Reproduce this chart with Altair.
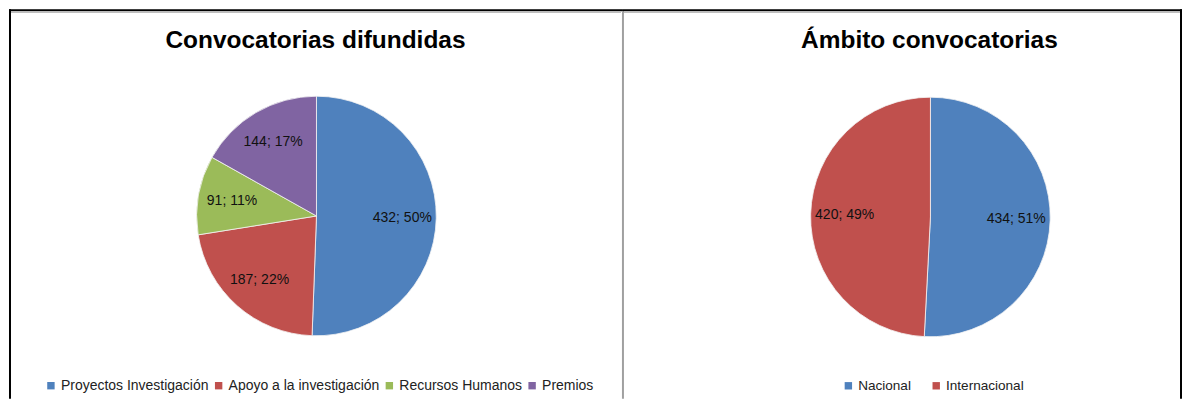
import altair as alt
import pandas as pd

# ---- data ----
cat1 = ["Proyectos Investigación", "Apoyo a la investigación", "Recursos Humanos", "Premios"]
val1 = [432, 187, 91, 144]
pct1 = [50, 22, 11, 17]
col1 = ["#4F81BD", "#C0504D", "#9BBB59", "#8064A2"]
title1 = "Convocatorias difundidas"

cat2 = ["Nacional", "Internacional"]
val2 = [434, 420]
pct2 = [51, 49]
col2 = ["#4F81BD", "#C0504D"]
title2 = "Ámbito convocatorias"

FONT = "Liberation Sans"
H = 390


def frame(df_cats, vals, pcts, colors, title, w, cx, cy, leg_x, leg_fs, col_pad, left_black, right_black):
    df = pd.DataFrame({
        "cat": df_cats,
        "value": vals,
        "idx": list(range(len(df_cats))),
        "label": [f"{v}; {p}%" for v, p in zip(vals, pcts)],
    })
    base = alt.Chart(df).encode(
        theta=alt.Theta("value:Q", stack=True),
        order=alt.Order("idx:Q"),
    )
    arcs = base.mark_arc(outerRadius=120, x=cx, y=cy, stroke="#f4f4f4", strokeWidth=0.8).encode(
        color=alt.Color(
            "cat:N",
            scale=alt.Scale(domain=df_cats, range=colors),
            sort=df_cats,
            legend=alt.Legend(
                orient="none", legendX=leg_x, legendY=370, direction="horizontal",
                title=None, symbolType="square", symbolSize=55, symbolStrokeWidth=0,
                labelFont=FONT, labelFontSize=leg_fs, labelColor="#222222",
                labelOffset=3, columnPadding=col_pad, labelLimit=300,
            ),
        )
    )
    labels = base.mark_text(radius=86, x=cx, y=cy, font=FONT, fontSize=14, color="#111111").encode(
        text="label:N"
    )
    one = alt.Data(values=[{"t": title}])
    ttl = alt.Chart(one).mark_text(
        x=cx - 1, y=32, font=FONT, fontSize=24.5, fontWeight="bold", color="#000000",
        align="center", baseline="middle",
    ).encode(text="t:N")
    layers = [arcs, labels, ttl]
    # panel frame lines
    top_black = alt.Chart(one).mark_rule(color="#000000", strokeWidth=2).encode(
        x=alt.value(0), x2=alt.value(w), y=alt.value(1))
    top_gray = alt.Chart(one).mark_rule(color="#b0b0b0", strokeWidth=1).encode(
        x=alt.value(2 if left_black else 1), x2=alt.value(w - 2), y=alt.value(3))
    layers += [top_black, top_gray]
    if left_black:
        layers.append(alt.Chart(one).mark_rule(color="#000000", strokeWidth=2).encode(
            x=alt.value(1), y=alt.value(0), y2=alt.value(H)))
        layers.append(alt.Chart(one).mark_rule(color="#a0a0a0", strokeWidth=2).encode(
            x=alt.value(w), y=alt.value(2), y2=alt.value(H)))
    if right_black:
        layers.append(alt.Chart(one).mark_rule(color="#000000", strokeWidth=2).encode(
            x=alt.value(w - 1), y=alt.value(0), y2=alt.value(H)))
    return alt.layer(*layers).properties(width=w, height=H)


p1 = frame(cat1, val1, pct1, col1, title1, 615, 308, 207, 35, 14, 3, True, False)
p2 = frame(cat2, val2, pct2, col2, title2, 560, 308, 208, 219, 13.6, 18, False, True)

chart = (
    alt.hconcat(p1, p2, spacing=0, bounds="flush")
    .resolve_scale(color="independent")
    .resolve_legend(color="independent")
    .configure_view(strokeWidth=0)
    .properties(padding=0, background="white")
)

chart.save("out.html", embed_options={"renderer": "svg", "actions": False})
